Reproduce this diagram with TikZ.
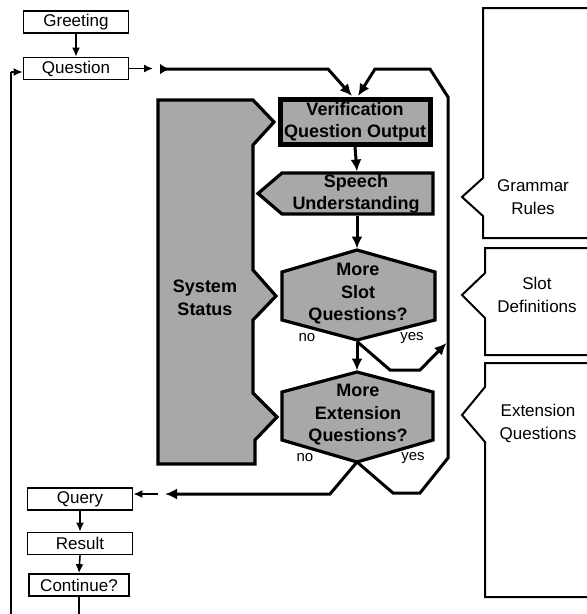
\documentclass[tikz,border=0pt]{standalone}
\usepackage{fontspec}
\setmainfont{Liberation Sans}
\usetikzlibrary{arrows.meta,calc}
\definecolor{shadegray}{gray}{0.66}

\begin{document}
\begin{tikzpicture}[x=1pt,y=-1pt,
  every node/.style={inner sep=0pt, font=\fontsize{17}{23}\selectfont, align=center},
  stepbox/.style={draw, line width=1.7pt, minimum width=105pt, minimum height=22pt},
  thinarrow/.style={line width=1.6pt, -{Latex[length=9pt,width=8pt]}},
  flow/.style={line width=3pt, line join=miter},
  flowtip/.style={-{Latex[length=12pt,width=11pt]}},
  shaded/.style={draw, line width=3.2pt, fill=shadegray, line join=miter},
  tagshape/.style={draw, line width=2pt, line join=miter},
  boldlabel/.style={font=\bfseries\fontsize{18}{22.5}\selectfont},
  answer/.style={font=\fontsize{15}{18}\selectfont}
]
\useasboundingbox[fill=white] (0,0) rectangle (587,614);

% ---- left column: dialogue steps ----
\node[stepbox] (greet) at (76,22) {Greeting};
\node[stepbox] (quest) at (76,68.5) {Question};
\node[stepbox] (query) at (80,499) {Query};
\node[stepbox] (result) at (80,543.5) {Result};
\node[stepbox, minimum width=100pt] (cont) at (79,585) {Continue?};

\draw[thinarrow] (greet) -- (quest);
\draw[thinarrow] (query.south) -- (result.north);
\draw[thinarrow] (result.south) -- (cont.north);

% loop back from Continue? to Question
\coordinate (loopa) at (79,630);
\coordinate (loopb) at (11,630);
\coordinate (loopc) at (11,72);
\draw[line width=1.6pt] (cont.south) -- (loopa) -- (loopb) -- (loopc);
\draw[thinarrow] (loopc) -- (quest.west |- loopc);

% ---- system status block ----
\path[shaded] (158,100) -- (253,100) -- (274,122) -- (253,145) -- (253,270)
  -- (276,296) -- (253,320) -- (253,393) -- (277,417) -- (255,440)
  -- (255,464) -- (158,464) -- cycle;
\node[boldlabel] (status) at (205,298) {System\\Status};

% ---- verification / understanding / decisions ----
\node[draw, line width=5pt, fill=shadegray, minimum width=150pt,
      minimum height=45pt, boldlabel] (verif) at (355,122)
      {Verification\\Question Output};

\path[shaded] (282,173) -- (433,173) -- (433,214) -- (282,214) -- (258,193.5) -- cycle;
\node[boldlabel] (speech) at (356,194) {Speech\\Understanding};
\coordinate (speechN) at (357,171.5);
\coordinate (speechS) at (357,215.5);

\path[shaded] (357,250) -- (435,272) -- (435,320) -- (357,340) -- (282,320) -- (282,272) -- cycle;
\node[boldlabel] (slot) at (358,294) {More\\Slot\\Questions?};
\coordinate (slotN) at (357,248.5);
\coordinate (slotS) at (357,341.5);

\path[shaded] (357,372) -- (433,392) -- (433,440) -- (357,462) -- (282,440) -- (282,392) -- cycle;
\node[boldlabel] (ext) at (358,415) {More\\Extension\\Questions?};
\coordinate (extN) at (357,370.5);
\coordinate (extS) at (357,462);

\node[answer] (slotno) at (307,338) {no};
\node[answer] (slotyes) at (412,338) {yes};
\node[answer] (extno) at (305,458) {no};
\node[answer] (extyes) at (413,458) {yes};

% ---- flow connectors ----
\coordinate (qout) at (153,68.5);
\draw[thinarrow] (quest.east) -- (qout);

\coordinate (topstart) at (160,69);
\coordinate (topbend) at (328,69);
\coordinate (vinL) at (352,96);
\coordinate (vinR) at (358,96);
\draw[flow, {Latex[length=9pt,width=11pt,reversed]}-{Latex[length=12pt,width=11pt]}]
  (topstart) -- (topbend) -- (vinL);

\draw[flow, flowtip] (verif.south) -- (speechN);
\draw[flow, flowtip] (speechS) -- (slotN);
\draw[flow, flowtip] (slotS) -- (extN);

% slot "yes" joins the return rail
\coordinate (rail) at (446.5,343);
\draw[flow, flowtip] (slotS) -- (390,370) -- (420,370) -- (rail);

% extension "yes" returns to the verification question
\draw[flow, flowtip] (extS) -- (393,493) -- (420,493) -- (448,458)
  -- (448,97) -- (430,69) -- (375,69) -- (vinR);

% extension "no" leads to the query
\coordinate (noend) at (165,494);
\draw[flow, -{Latex[length=12pt,width=11pt]}] (extS) -- (330,494) -- (noend);
\coordinate (qarr) at (158,494);
\draw[thinarrow] (qarr) -- (query.east |- qarr);

% ---- knowledge sources on the right ----
\draw[tagshape] (600,8) -- (483,8) -- (483,178) -- (462,197) -- (483,216) -- (483,238) -- (600,238);
\node (grammar) at (533,197) {Grammar\\Rules};

\draw[tagshape] (600,248) -- (485,248) -- (485,273) -- (462,295) -- (485,318) -- (485,355) -- (600,355);
\node (slotdef) at (537,295) {Slot\\Definitions};

\draw[tagshape] (600,363) -- (485,363) -- (485,387) -- (462,415) -- (485,442) -- (485,597) -- (600,597);
\node (extq) at (538,423) {Extension\\Questions};
\end{tikzpicture}
\end{document}
